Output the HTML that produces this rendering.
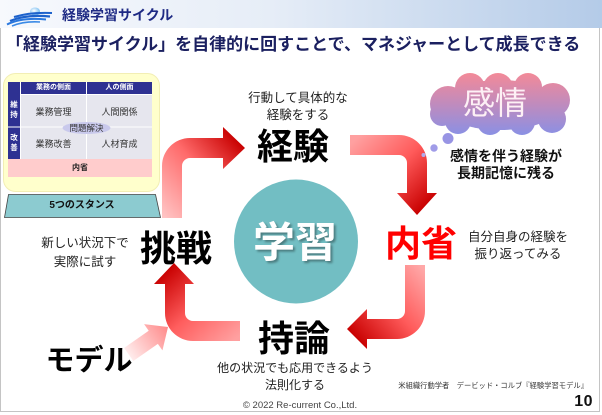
<!DOCTYPE html>
<html><head><meta charset="utf-8">
<style>
html,body{margin:0;padding:0;background:#fff;}
body{width:602px;height:415px;position:relative;overflow:hidden;font-family:"Liberation Sans","Noto Sans CJK JP",sans-serif;}
.t{position:absolute;white-space:nowrap;text-align:center;}
.b{font-weight:bold;}
</style></head><body>

<div style="position:absolute;left:0;top:0;width:602px;height:28px;background:linear-gradient(90deg,#f7f9fd 0%,#e6edf7 45%,#b4cbe8 100%);"></div>
<div style="position:absolute;left:0;top:28px;width:598px;height:383px;border:solid #c4c4c4;border-width:0 1px 1px 1px;"></div>

<svg width="602" height="415" viewBox="0 0 602 415" style="position:absolute;left:0;top:0;">
  <defs>
    <radialGradient id="lg" cx="0.4" cy="0.4" r="0.7">
      <stop offset="0" stop-color="#ffffff"/>
      <stop offset="1" stop-color="#5ab0f0"/>
    </radialGradient>
    <linearGradient id="g1" gradientUnits="userSpaceOnUse" x1="165" y1="218" x2="245" y2="148">
      <stop offset="0" stop-color="#ffc4c4"/>
      <stop offset="0.55" stop-color="#ff6a6a"/>
      <stop offset="1" stop-color="#c80000"/>
    </linearGradient>
    <linearGradient id="g2" gradientUnits="userSpaceOnUse" x1="350" y1="145" x2="417" y2="215">
      <stop offset="0" stop-color="#ffa0a0"/>
      <stop offset="0.5" stop-color="#ff5a5a"/>
      <stop offset="1" stop-color="#c80000"/>
    </linearGradient>
    <linearGradient id="g3" gradientUnits="userSpaceOnUse" x1="420" y1="265" x2="347" y2="329">
      <stop offset="0" stop-color="#ffa8a8"/>
      <stop offset="0.5" stop-color="#ff5a5a"/>
      <stop offset="1" stop-color="#c80000"/>
    </linearGradient>
    <linearGradient id="g4" gradientUnits="userSpaceOnUse" x1="240" y1="335" x2="174" y2="263">
      <stop offset="0" stop-color="#ffa0a0"/>
      <stop offset="0.5" stop-color="#ff5e5e"/>
      <stop offset="1" stop-color="#c80000"/>
    </linearGradient>
    <linearGradient id="gm" x1="0" y1="0" x2="1" y2="0">
      <stop offset="0" stop-color="#ffecec"/>
      <stop offset="1" stop-color="#ff8a8a"/>
    </linearGradient>
    <linearGradient id="gc" gradientUnits="userSpaceOnUse" x1="0" y1="73" x2="0" y2="135">
      <stop offset="0" stop-color="#f38a98"/>
      <stop offset="0.5" stop-color="#c08bbd"/>
      <stop offset="1" stop-color="#8a90e4"/>
    </linearGradient>
  </defs>

  <!-- logo -->
  <g>
    <ellipse cx="35" cy="11.5" rx="5" ry="4" fill="url(#lg)"/>
    <path d="M14,17 Q30,12 52,13" stroke="#1d62cc" stroke-width="2" fill="none"/>
    <path d="M10,21 Q26,14 50,16.5" stroke="#1d62cc" stroke-width="2.2" fill="none"/>
    <path d="M7,24.5 Q22,17 46,19.5" stroke="#2a78de" stroke-width="2" fill="none"/>
    <path d="M12,26 Q24,21 40,22" stroke="#3a8ae6" stroke-width="1.6" fill="none"/>
  </g>

  <!-- left panel -->
  <rect x="3.5" y="73.5" width="156" height="118" rx="12" ry="12" fill="#ffffcc" stroke="#f2eeb4" stroke-width="1"/>
  <rect x="8" y="82" width="144" height="95" fill="#e6e6ee"/>
  <rect x="8" y="82" width="144" height="12" fill="#2e3192"/>
  <rect x="8" y="94" width="12.5" height="65" fill="#2e3192"/>
  <line x1="86.5" y1="82" x2="86.5" y2="159" stroke="#ffffff" stroke-width="1"/>
  <line x1="20.5" y1="82" x2="20.5" y2="159" stroke="#ffffff" stroke-width="1"/>
  <line x1="8" y1="127" x2="152" y2="127" stroke="#ffffff" stroke-width="1"/>
  <line x1="20" y1="94.5" x2="152" y2="94.5" stroke="#ffffff" stroke-width="1"/>
  <rect x="8" y="159" width="144" height="18" fill="#ffcccc"/>
  <ellipse cx="86.5" cy="128" rx="24" ry="6" fill="#c9c9ec"/>

  <!-- trapezoid -->
  <polygon points="8.5,194.5 155.5,194.5 160.5,217.5 4.5,217.5" fill="#8ccbd0" stroke="#444" stroke-width="0.8"/>

  <!-- arrows -->
  <path d="M162,218 L162,166 A28,28 0 0 1 190,138 L223,138 L223,127 L245,148 L223,169 L223,158 L190,158 A8,8 0 0 0 182,166 L182,218 Z" fill="url(#g1)"/>
  <path d="M350,135 L399,135 A28,28 0 0 1 427,163 L427,193 L437,193 L417,215 L397,193 L407,193 L407,163 A8,8 0 0 0 399,155 L350,155 Z" fill="url(#g2)"/>
  <path d="M405,265 L425,265 L425,311 A28,28 0 0 1 397,339 L367,339 L367,349 L347,329 L367,309 L367,319 L397,319 A8,8 0 0 0 405,311 Z" fill="url(#g3)"/>
  <path d="M240,321 L240,341 L193,341 A28,28 0 0 1 165,313 L165,284 L154,284 L174,263 L194,284 L185,284 L185,313 A8,8 0 0 0 193,321 Z" fill="url(#g4)"/>

  <!-- model arrow -->
  <g transform="translate(128.7,354.5) rotate(-35)">
    <path d="M0,-8 L30,-8 L30,-16 L48,0 L30,16 L30,8 L0,8 Z" fill="url(#gm)"/>
  </g>

  <!-- circle -->
  <circle cx="296" cy="241.5" r="62" fill="#72bec3"/>

  <!-- cloud -->
  <g fill="url(#gc)">
    <ellipse cx="500" cy="105" rx="60" ry="25"/>
    <circle cx="448" cy="104" r="18"/>
    <circle cx="470" cy="88" r="15"/>
    <circle cx="498" cy="88" r="15"/>
    <circle cx="528" cy="87" r="14"/>
    <circle cx="553" cy="100" r="17"/>
    <circle cx="552" cy="119" r="14"/>
    <circle cx="522" cy="122" r="13"/>
    <circle cx="490" cy="122" r="13"/>
    <circle cx="458" cy="121" r="13"/>
    <circle cx="442" cy="114" r="12"/>
  </g>
  <circle cx="448" cy="138.5" r="5.5" fill="#9894e4"/>
  <circle cx="434" cy="148" r="3.7" fill="#a09ce8"/>
  <circle cx="423.5" cy="155" r="2" fill="#b0acee"/>
</svg>

<!-- header -->
<div class="t b" style="left:62px;top:8px;font-size:14px;line-height:14px;color:#1e2a84;text-align:left;">経験学習サイクル</div>
<div class="t b" style="left:6px;top:36px;font-size:17px;line-height:17px;color:#1b2060;text-align:left;">「経験学習サイクル」を自律的に回すことで、マネジャーとして成長できる</div>

<!-- table text -->
<div class="t b" style="left:21px;top:84px;width:65px;font-size:7px;line-height:8px;color:#fff;">業務の側面</div>
<div class="t b" style="left:87px;top:84px;width:65px;font-size:7px;line-height:8px;color:#fff;">人の側面</div>
<div class="t b" style="left:8px;top:100px;width:12px;font-size:7.5px;line-height:10px;color:#fff;">維<br>持</div>
<div class="t b" style="left:8px;top:133px;width:12px;font-size:7.5px;line-height:10px;color:#fff;">改<br>善</div>
<div class="t" style="left:21px;top:107px;width:65px;font-size:9px;line-height:10px;color:#333;">業務管理</div>
<div class="t" style="left:87px;top:107px;width:65px;font-size:9px;line-height:10px;color:#333;">人間関係</div>
<div class="t" style="left:21px;top:139px;width:65px;font-size:9px;line-height:10px;color:#333;">業務改善</div>
<div class="t" style="left:87px;top:139px;width:65px;font-size:9px;line-height:10px;color:#333;">人材育成</div>
<div class="t" style="left:56px;top:123.5px;width:61px;font-size:8.5px;line-height:9px;color:#333;">問題解決</div>
<div class="t b" style="left:8px;top:164px;width:144px;font-size:8px;line-height:8px;color:#222;">内省</div>
<div class="t b" style="left:32px;top:201px;width:100px;font-size:10px;line-height:10px;color:#111;">5つのスタンス</div>

<!-- cycle text -->
<div class="t" style="left:238px;top:90px;width:120px;font-size:12.5px;line-height:17px;color:#222;">行動して具体的な<br>経験をする</div>
<div class="t b" style="left:233px;top:129px;width:120px;font-size:36px;line-height:36px;color:#000;">経験</div>
<div class="t b" style="left:235px;top:222px;width:120px;font-size:42px;line-height:42px;color:#fff;text-shadow:2px 2px 2px rgba(0,0,0,0.35);">学習</div>
<div class="t b" style="left:361px;top:226px;width:120px;font-size:36px;line-height:36px;color:#ff0000;">内省</div>
<div class="t" style="left:458px;top:229px;width:120px;font-size:12.5px;line-height:17px;color:#222;">自分自身の経験を<br>振り返ってみる</div>
<div class="t b" style="left:441px;top:148px;width:130px;font-size:14px;line-height:17px;color:#111;">感情を伴う経験が<br>長期記憶に残る</div>
<div class="t" style="left:445px;top:87px;width:100px;font-size:32px;line-height:32px;color:#fdf0f5;">感情</div>
<div class="t b" style="left:116px;top:231px;width:120px;font-size:36px;line-height:36px;color:#000;">挑戦</div>
<div class="t" style="left:25px;top:234px;width:120px;font-size:12.5px;line-height:19px;color:#222;">新しい状況下で<br>実際に試す</div>
<div class="t b" style="left:29px;top:347px;width:120px;font-size:29px;line-height:29px;color:#000;">モデル</div>
<div class="t b" style="left:234px;top:321px;width:120px;font-size:36px;line-height:36px;color:#000;">持論</div>
<div class="t" style="left:205px;top:360px;width:180px;font-size:12px;line-height:17px;color:#222;">他の状況でも応用できるよう<br>法則化する</div>
<div class="t" style="left:220px;top:401px;width:160px;font-size:9.5px;line-height:10px;color:#444;">© 2022 Re-current Co.,Ltd.</div>
<div class="t" style="right:14px;top:382px;font-size:7.3px;line-height:8px;color:#333;text-align:right;">米組織行動学者　デービッド・コルブ『経験学習モデル』</div>
<div class="t b" style="right:9px;top:394px;font-size:16px;line-height:16px;color:#111;text-align:right;letter-spacing:0.5px;">10</div>

</body></html>
